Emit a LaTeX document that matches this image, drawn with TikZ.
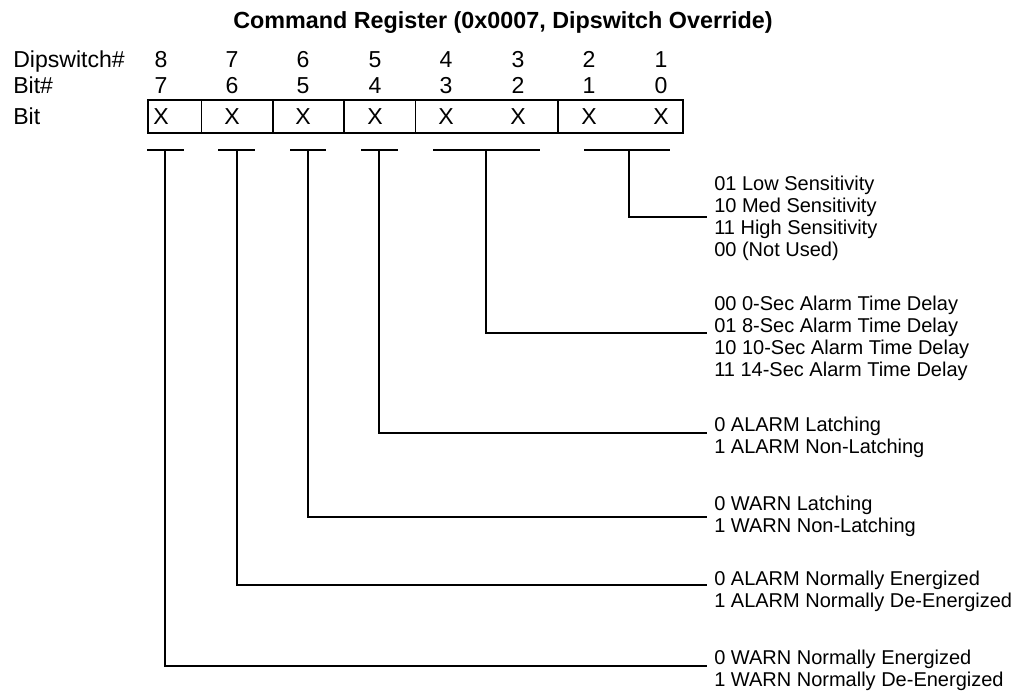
\documentclass[tikz,border=0pt]{standalone}
\usepackage{fontspec}
\setmainfont{Liberation Sans}
\begin{document}
\begin{tikzpicture}[x=0.75pt,y=-0.75pt,
  lab/.style={font=\fontsize{17.3pt}{19pt}\selectfont, inner sep=0pt},
  desc/.style={font=\fontsize{15pt}{17pt}\selectfont, inner sep=0pt, anchor=base west},
  ttl/.style={font=\bfseries\fontsize{17.5pt}{19pt}\selectfont, inner sep=0pt},
  ln/.style={line width=1.1pt},
  ]
\useasboundingbox (0,0) rectangle (1013,690);
% title
\node[ttl, anchor=base] (title) at (503,28.5) {Command Register (0x0007, Dipswitch Override)};
% row labels
\node[lab, anchor=base west] (ldip) at (13,67.5) {Dipswitch\#};
\node[lab, anchor=base west] (lbitn) at (13,93) {Bit\#};
\node[lab, anchor=base west] (lbit) at (13,124) {Bit};
% columns
\foreach \i/\x in {7/161,6/232,5/303,4/375,3/446,2/518,1/589,0/661}{
  \pgfmathtruncatemacro{\d}{\i+1}
  \node[lab, anchor=base] (dip\i) at (\x,67.5) {\d};
  \node[lab, anchor=base] (bitn\i) at (\x,93) {\i};
  \node[lab, anchor=base] (x\i) at (\x,124) {X};
}
% register box
\coordinate (boxtl) at (148,100);
\coordinate (boxbr) at (683,133);
\draw[ln] (boxtl) rectangle (boxbr);
\foreach \x in {201.5,273,344,415.5,558}{
  \draw[ln] (\x,100) -- (\x,133);
}
% T-bars
\foreach \n/\a/\b/\m in {7/147/184/165, 6/218/255/237, 5/290/326/308, 4/361/398/379, 32/433/540/486, 10/584/670/629}{
  \coordinate (bl\n) at (\a,150);
  \coordinate (br\n) at (\b,150);
  \coordinate (bm\n) at (\m,150);
  \draw[ln] (bl\n) -- (br\n);
}
% leader ends
\coordinate (e10) at (707,217);
\coordinate (e32) at (707,333);
\coordinate (e4) at (707,433);
\coordinate (e5) at (707,517);
\coordinate (e6) at (707,585);
\coordinate (e7) at (707,666);
\foreach \n in {10,32,4,5,6,7}{
  \draw[ln] (bm\n) |- (e\n);
}
% descriptions
\node[desc] (d10a) at (714,190) {01 Low Sensitivity};
\node[desc] (d10b) at (714,212) {10 Med Sensitivity};
\node[desc] (d10c) at (714,234) {11 High Sensitivity};
\node[desc] (d10d) at (714,256) {00 (Not Used)};
\node[desc] (d32a) at (714,310) {00 0-Sec Alarm Time Delay};
\node[desc] (d32b) at (714,332) {01 8-Sec Alarm Time Delay};
\node[desc] (d32c) at (714,354) {10 10-Sec Alarm Time Delay};
\node[desc] (d32d) at (714,376) {11 14-Sec Alarm Time Delay};
\node[desc] (d4a) at (714,431) {0 ALARM Latching};
\node[desc] (d4b) at (714,453) {1 ALARM Non-Latching};
\node[desc] (d5a) at (714,510) {0 WARN Latching};
\node[desc] (d5b) at (714,532) {1 WARN Non-Latching};
\node[desc] (d6a) at (714,585) {0 ALARM Normally Energized};
\node[desc] (d6b) at (714,607) {1 ALARM Normally De-Energized};
\node[desc] (d7a) at (714,664) {0 WARN Normally Energized};
\node[desc] (d7b) at (714,686) {1 WARN Normally De-Energized};
\end{tikzpicture}
\end{document}
